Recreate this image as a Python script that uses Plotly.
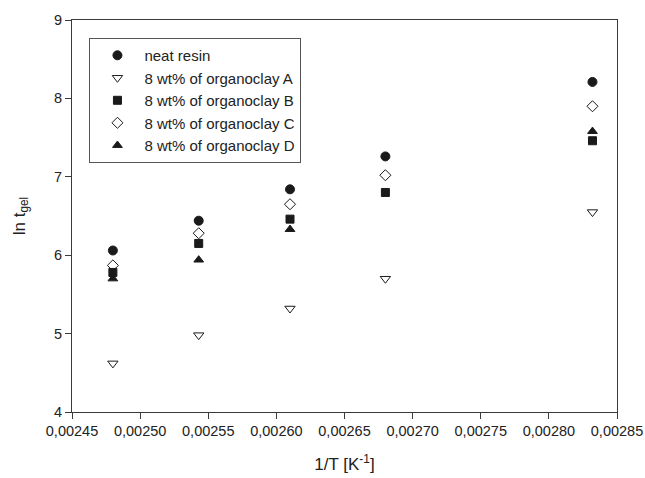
import plotly.graph_objects as go

inv_T = [0.002480, 0.002543, 0.002610, 0.002680, 0.002832]
neat_resin = [6.06, 6.44, 6.84, 7.26, 8.21]
clay_A = [4.62, 4.98, 5.32, 5.70, 6.55]
clay_B = [5.78, 6.15, 6.46, 6.80, 7.46]
clay_C = [5.87, 6.28, 6.65, 7.02, 7.90]
clay_D = [5.70, 5.94, 6.33, None, 7.58]

names = ["neat resin", "8 wt% of organoclay A", "8 wt% of organoclay B",
         "8 wt% of organoclay C", "8 wt% of organoclay D"]
series = [neat_resin, clay_A, clay_B, clay_C, clay_D]
symbols = ["circle", "triangle-down-open", "square", "diamond-open", "triangle-up"]
sizes = [9, 9, 8, 8.5, 8.5]

ink = "#1a1a1a"
fig = go.Figure()
for n, s, sym, sz in zip(names, series, symbols, sizes):
    fig.add_trace(go.Scatter(
        x=inv_T, y=s, mode="markers", name=n,
        marker=dict(symbol=sym, size=sz, color=ink, line=dict(color=ink, width=1)),
    ))

axis_common = dict(showline=True, linecolor="#3a3a3a", linewidth=1, mirror=True,
                   showgrid=False, zeroline=False, ticks="outside", ticklen=6,
                   tickcolor="#3a3a3a", automargin=False,
                   tickfont=dict(size=14.5, color="#222"))
fig.update_xaxes(range=[0.00245, 0.00285], dtick=0.00005, tick0=0.00245,
                 tickformat=".5f",
                 title=dict(text="1/T [K<sup>-1</sup>]", font=dict(size=17, color="#222"), standoff=19),
                 **axis_common)
fig.update_yaxes(range=[4, 9], dtick=1,
                 title=dict(text="ln t<sub>gel</sub>", font=dict(size=17, color="#222"), standoff=24),
                 **axis_common)
fig.update_layout(
    width=645, height=478,
    margin=dict(l=71.5, r=27.5, t=19.5, b=65.5),
    paper_bgcolor="white", plot_bgcolor="white",
    separators=",.",
    font=dict(family="Liberation Sans, Arial, sans-serif", color="#222"),
    legend=dict(x=0.032, y=0.954, xanchor="left", yanchor="top",
                bordercolor="#555", borderwidth=1, bgcolor="white",
                font=dict(size=15, color="#222"), itemwidth=44,
                tracegroupgap=0),
    showlegend=True,
)
fig.write_html("out.html",
               config={"displayModeBar": False},
               post_script="document.body.style.margin='0px';document.body.style.overflow='hidden';")
